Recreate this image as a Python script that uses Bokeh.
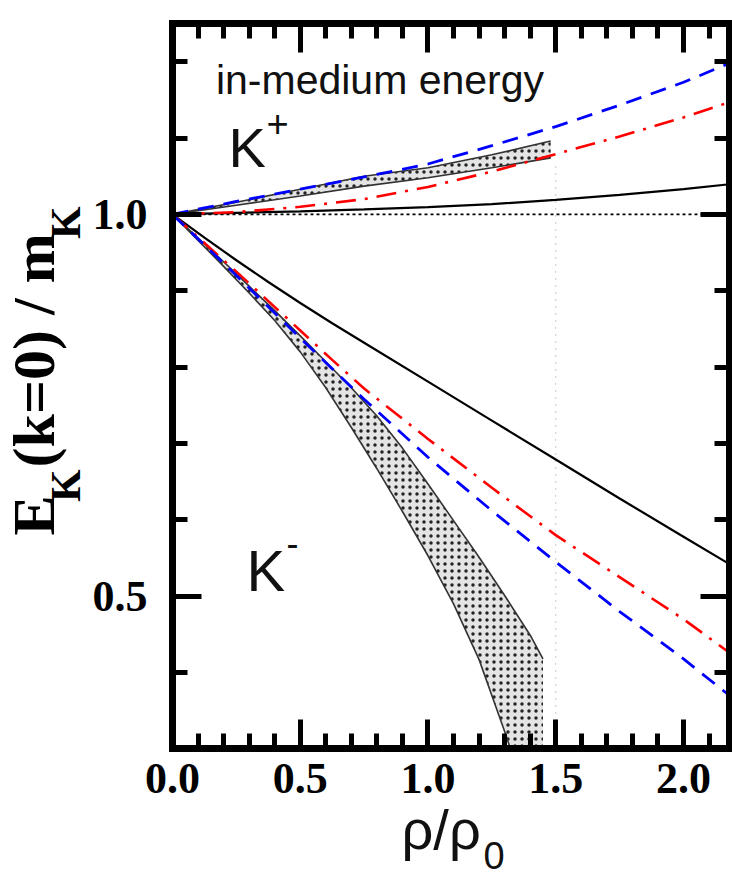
import math
from bokeh.plotting import figure
from bokeh.models import (Range1d, LinearAxis, SingleIntervalTicker, PrintfTickFormatter,
                          CustomJSTickFormatter, Label)
from bokeh.embed import file_html
from bokeh.resources import INLINE

# ---------------- data ----------------
# K+ branch (rho/rho0 -> E/m)
kp_x = [0.0, 0.25, 0.5, 0.75, 1.0, 1.25, 1.5, 1.75, 2.0, 2.18]
kp_solid = [1.0, 1.002, 1.004, 1.0065, 1.0095, 1.0135, 1.019, 1.0255, 1.033, 1.0395]
kp_blue = [1.0, 1.017, 1.033, 1.049, 1.066, 1.090, 1.115, 1.143, 1.173, 1.198]
kp_red = [1.0, 1.003, 1.010, 1.020, 1.036, 1.056, 1.079, 1.102, 1.127, 1.147]

kp_band_x = [0.0, 0.25, 0.5, 0.75, 1.0, 1.25, 1.48]
kp_band_hi = [1.0, 1.016, 1.033, 1.050, 1.061, 1.078, 1.096]
kp_band_lo = [1.0, 1.012, 1.024, 1.037, 1.048, 1.061, 1.074]

# K- branch
km_x = [0.0, 0.125, 0.25, 0.375, 0.5, 0.625, 0.75, 1.0, 1.25, 1.5, 1.75, 2.0, 2.18]
km_solid = [1.0, 0.9695, 0.940, 0.9115, 0.884, 0.8575, 0.832, 0.781, 0.730, 0.679,
            0.628, 0.578, 0.542]
km_red = [1.0, 0.9625, 0.925, 0.8865, 0.848, 0.8095, 0.772, 0.706, 0.642, 0.580,
          0.525, 0.470, 0.426]
km_blue = [1.0, 0.960, 0.920, 0.879, 0.838, 0.798, 0.758, 0.682, 0.612, 0.545,
           0.480, 0.418, 0.370]

km_band_hi_x = [0.0, 0.1, 0.2, 0.3, 0.4, 0.5, 0.6, 0.7, 0.8, 0.9, 1.0, 1.1, 1.2, 1.3, 1.4, 1.45]
km_band_hi = [1.0, 0.969, 0.938, 0.906, 0.874, 0.841, 0.807, 0.773, 0.736, 0.694,
              0.647, 0.599, 0.551, 0.501, 0.449, 0.418]
km_band_lo_x = [0.0, 0.1, 0.2, 0.3, 0.4, 0.5, 0.6, 0.7, 0.8, 0.9, 1.0, 1.1, 1.2, 1.3, 1.323]
km_band_lo = [1.0, 0.966, 0.932, 0.897, 0.861, 0.820, 0.773, 0.721, 0.667, 0.611,
              0.553, 0.490, 0.417, 0.323, 0.300]
km_band_floor = 0.300

# reference lines
unity_x = [0.0, 2.18]
unity_y = [1.0, 1.0]
rho15_x = [1.5, 1.5]
rho15_y = [0.3, 1.066]

# axis box and ticks
x_box = (0.0, 2.18)
y_box = (0.3, 1.25)
tick_interval = 0.5

# ---------------- figure ----------------
p = figure(width=732, height=879,
           x_range=Range1d(-0.6732, 2.1918), y_range=Range1d(0.1291, 1.2801),
           output_backend="svg", toolbar_location=None, min_border=0)
p.grid.visible = False
p.outline_line_color = None
p.background_fill_color = "white"
p.border_fill_color = "white"

p.add_layout(LinearAxis(), "above")
p.add_layout(LinearAxis(), "right")

bottom, left, top, right = p.below[0], p.left[0], p.above[0], p.right[0]
bottom.fixed_location = y_box[0]
top.fixed_location = y_box[1]
left.fixed_location = x_box[0]
right.fixed_location = x_box[1]
for ax in (bottom, top):
    ax.bounds = x_box
for ax in (left, right):
    ax.bounds = y_box

for ax in (bottom, top, left, right):
    ax.ticker = SingleIntervalTicker(interval=tick_interval, num_minor_ticks=5)
    ax.axis_line_color = "black"
    ax.axis_line_width = 7
    ax.axis_line_cap = "square"
    ax.major_tick_in = 29
    ax.major_tick_out = 0
    ax.minor_tick_in = 15
    ax.minor_tick_out = 0
    ax.major_tick_line_width = 5
    ax.minor_tick_line_width = 5
    ax.major_tick_line_color = "black"
    ax.minor_tick_line_color = "black"

for ax in (bottom, left):
    ax.formatter = PrintfTickFormatter(format="%.1f")
    ax.major_label_text_font = "Liberation Serif"
    ax.major_label_text_font_style = "bold"
    ax.major_label_text_font_size = "44px"
    ax.major_label_text_color = "black"
bottom.major_label_standoff = 15
left.major_label_standoff = 25

for ax in (top, right):
    ax.formatter = CustomJSTickFormatter(code="return ''")
    ax.major_label_standoff = 0

# ---------------- reference lines ----------------
p.line(unity_x, unity_y, line_color="black", line_width=1.8, line_dash="3 3")
p.line(rho15_x, rho15_y, line_color="#c8c8c8", line_width=1, line_dash="2 5")

# ---------------- bands ----------------
band_fill = dict(fill_color="#e4e4e4", line_color=None,
                 hatch_pattern="dot", hatch_color="#222222",
                 hatch_scale=7, hatch_weight=1.5)

kp_poly_x = kp_band_x + kp_band_x[::-1]
kp_poly_y = kp_band_hi + kp_band_lo[::-1]
p.patch(kp_poly_x, kp_poly_y, **band_fill)
p.line(kp_band_x, kp_band_hi, line_color="#333333", line_width=1.6)
p.line(kp_band_x, kp_band_lo, line_color="#333333", line_width=1.6)

km_poly_x = km_band_hi_x + [km_band_hi_x[-1]] + km_band_lo_x[::-1]
km_poly_y = km_band_hi + [km_band_floor] + km_band_lo[::-1]
p.patch(km_poly_x, km_poly_y, **band_fill)
p.line(km_band_hi_x, km_band_hi, line_color="#333333", line_width=1.6)
p.line(km_band_lo_x, km_band_lo, line_color="#333333", line_width=1.6)

# ---------------- curves ----------------
p.line(kp_x, kp_solid, line_color="black", line_width=2.2)
p.line(km_x, km_solid, line_color="black", line_width=2.2)
p.line(kp_x, kp_red, line_color="#ff0000", line_width=2.6, line_dash="20 9 3 9")
p.line(km_x, km_red, line_color="#ff0000", line_width=2.6, line_dash="20 9 3 9")
p.line(kp_x, kp_blue, line_color="#0000ff", line_width=2.8, line_dash="16 10")
p.line(km_x, km_blue, line_color="#0000ff", line_width=2.8, line_dash="16 10")

# ---------------- texts ----------------
sans = "Liberation Sans"
serif = "Liberation Serif"


def label(x, y, text, size, font=sans, style="normal", angle=0.0, color="#111111"):
    p.add_layout(Label(x=x, y=y, text=text, text_font=font, text_font_style=style,
                       text_font_size=size, text_color=color, angle=angle,
                       text_align="left", text_baseline="alphabetic"))


label(0.170, 1.1761, "in-medium energy", "41px")
label(0.219, 1.0877, "K", "56px")
label(0.368, 1.1189, "+", "38px")
label(0.2896, 0.5335, "K", "58px")
label(0.446, 0.5694, "-", "36px")

# y axis title: E_K(k=0) / m_K  (rotated, bold serif)
rot = math.pi / 2
label(-0.5417, 0.5796, "E", "60px", font=serif, style="bold", angle=rot, color="black")
label(-0.4165, 0.6235, "K", "42px", font=serif, style="bold", angle=rot, color="black")
label(-0.5417, 0.6687, "(k=0) / m", "60px", font=serif, style="bold", angle=rot, color="black")
label(-0.4165, 0.9679, "K", "42px", font=serif, style="bold", angle=rot, color="black")

# x axis title: rho/rho_0
label(0.8963, 0.1946, "ρ/ρ", "56px")
label(1.2172, 0.1603, "0", "38px")

open("out.html", "w").write(file_html(p, INLINE))
